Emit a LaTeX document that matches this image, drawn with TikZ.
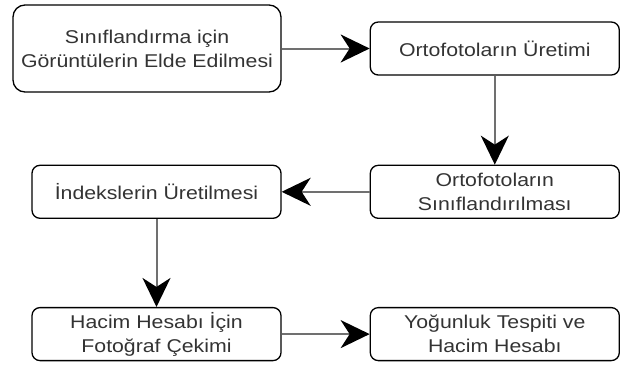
\documentclass[tikz,border=0pt]{standalone}
\usepackage{fontspec}
\setmainfont{Liberation Sans}[FakeStretch=1.15]
\usetikzlibrary{positioning, arrows.meta}

\definecolor{txtgray}{HTML}{333333}
\definecolor{linegray}{HTML}{707070}

\begin{document}
\begin{tikzpicture}[x=1pt, y=1pt, node distance=88pt,
  stage box/.style={rectangle, rounded corners=8pt, draw, line width=1.3pt,
    minimum width=249pt, minimum height=53pt, align=center, text=txtgray,
    font=\fontsize{18.5}{24}\selectfont},
  big box/.style={stage box, rounded corners=12pt, minimum width=268pt, minimum height=87pt},
  flow/.style={draw=linegray, line width=2pt,
    -{Stealth[length=29pt, width=28pt, inset=9pt, color=black]}}]

\useasboundingbox (0,0) rectangle (622,-365);

\node[big box] (G) at (147,-48.5) {Sınıflandırma için\\Görüntülerin Elde Edilmesi};
\node[stage box] (O) [right=88pt of G] {Ortofotoların Üretimi};
\node[stage box] (S) [below=89pt of O] {Ortofotoların\\Sınıflandırılması};
\node[stage box] (I) [left=88pt of S] {İndekslerin Üretilmesi};
\node[stage box] (H) [below=88pt of I] {Hacim Hesabı İçin\\Fotoğraf Çekimi};
\node[stage box] (Y) [right=88pt of H] {Yoğunluk Tespiti ve\\Hacim Hesabı};

\draw[flow] (G) -- (O);
\draw[flow] (O) -- (S);
\draw[flow] (S) -- (I);
\draw[flow] (I) -- (H);
\draw[flow] (H) -- (Y);
\end{tikzpicture}
\end{document}
